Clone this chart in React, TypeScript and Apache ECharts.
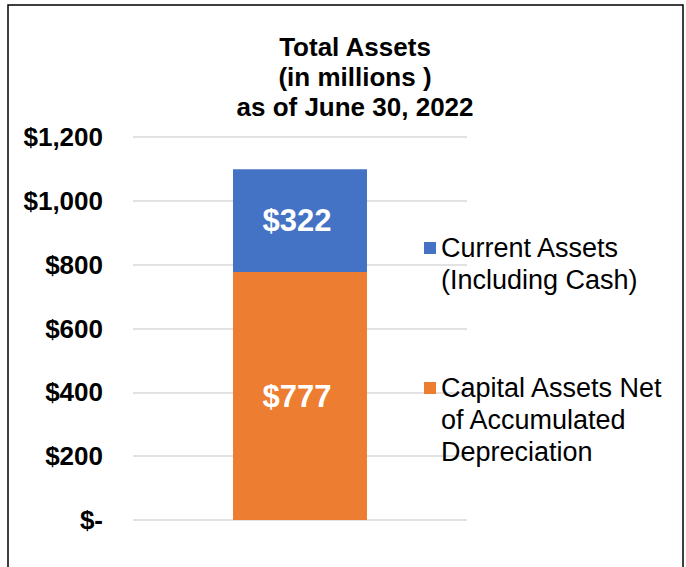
import React, { useEffect, useRef } from "react";
import * as echarts from "echarts";

const categories = ["Total Assets"];
const seriesNames = [
  "Capital Assets Net of Accumulated Depreciation",
  "Current Assets (Including Cash)",
];
const capitalAssets = [777];
const currentAssets = [322];
const titleLines = ["Total Assets", "(in millions )", "as of June 30, 2022"];
const legendLines1 = ["Current Assets", "(Including Cash)"];
const legendLines2 = ["Capital Assets Net", "of Accumulated", "Depreciation"];

const FONT = "'Liberation Sans', Arial, sans-serif";

export default function App() {
  const ref = useRef<HTMLDivElement>(null);
  useEffect(() => {
    if (!ref.current) return;
    const chart = echarts.init(ref.current, undefined, { renderer: "svg" });
    // A blank leading line (or two) puts the icon level with the first text line.
    const legendText = (lines: string[], blanks: number) =>
      "\n".repeat(blanks) + lines.join("\n");
    chart.setOption({
      animation: false,
      backgroundColor: "#fff",
      textStyle: { fontFamily: FONT },
      title: {
        text: titleLines.join("\n"),
        left: 355,
        textAlign: "center",
        top: 32,
        padding: 0,
        textStyle: {
          fontFamily: FONT,
          fontSize: 26,
          fontWeight: "bold",
          lineHeight: 30,
          color: "#000",
        },
      },
      graphic: [
        {
          type: "rect",
          shape: { x: 8, y: 5, width: 675, height: 620 },
          style: { fill: "none", stroke: "#000", lineWidth: 1.5 },
          silent: true,
        },
      ],
      legend: [
        {
          data: [seriesNames[1]],
          left: 424,
          top: 200,
          orient: "vertical",
          padding: 0,
          icon: "rect",
          itemWidth: 12,
          itemHeight: 12,
          selectedMode: false,
          formatter: () => legendText(legendLines1, 1),
          textStyle: {
            fontFamily: FONT,
            fontSize: 27,
            lineHeight: 32,
            color: "#000",
          },
        },
        {
          data: [seriesNames[0]],
          left: 424,
          top: 308,
          orient: "vertical",
          padding: 0,
          icon: "rect",
          itemWidth: 12,
          itemHeight: 12,
          selectedMode: false,
          formatter: () => legendText(legendLines2, 2),
          textStyle: {
            fontFamily: FONT,
            fontSize: 27,
            lineHeight: 32,
            color: "#000",
          },
        },
      ],
      grid: { left: 133, right: 219, top: 137, bottom: 47, containLabel: false },
      xAxis: {
        type: "category",
        data: categories,
        axisLine: { show: false },
        axisTick: { show: false },
        axisLabel: { show: false },
      },
      yAxis: {
        type: "value",
        min: 0,
        max: 1200,
        interval: 200,
        axisLine: { show: false },
        axisTick: { show: false },
        splitLine: { lineStyle: { color: "#D9D9D9", width: 1.5 } },
        axisLabel: {
          margin: 30,
          fontFamily: FONT,
          fontSize: 26,
          fontWeight: "bold",
          color: "#000",
          formatter: (v: number) =>
            v === 0 ? "$-" : "$" + v.toLocaleString("en-US"),
        },
      },
      series: [
        {
          name: seriesNames[0],
          type: "bar",
          stack: "total",
          data: capitalAssets,
          barWidth: 134,
          itemStyle: { color: "#ED7D31" },
          label: {
            show: true,
            position: "inside",
            offset: [-3, 0],
            color: "#fff",
            fontFamily: FONT,
            fontSize: 31,
            fontWeight: "bold",
            formatter: (p: any) => "$" + p.value,
          },
        },
        {
          name: seriesNames[1],
          type: "bar",
          stack: "total",
          data: currentAssets,
          barWidth: 134,
          itemStyle: { color: "#4472C4" },
          label: {
            show: true,
            position: "inside",
            offset: [-3, 0],
            color: "#fff",
            fontFamily: FONT,
            fontSize: 31,
            fontWeight: "bold",
            formatter: (p: any) => "$" + p.value,
          },
        },
      ],
    });
    return () => chart.dispose();
  }, []);
  return (
    <div
      ref={ref}
      style={{ position: "fixed", left: 0, top: 0, width: 686, height: 567 }}
    />
  );
}
